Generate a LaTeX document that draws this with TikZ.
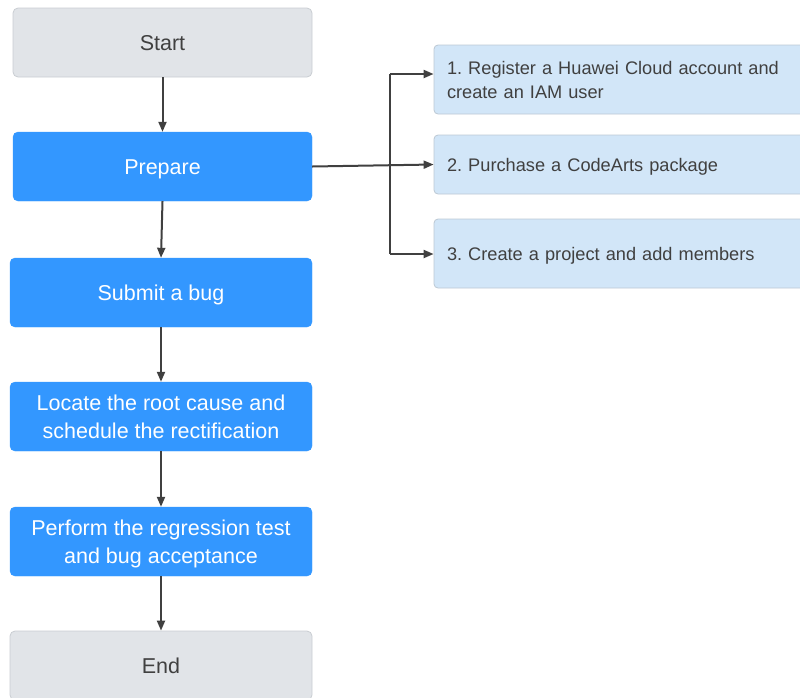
\documentclass[tikz,border=0pt]{standalone}
\usepackage{fontspec}
\setmainfont{Liberation Sans}
\usetikzlibrary{arrows.meta}
\definecolor{grayfill}{HTML}{E1E4E8}
\definecolor{grayline}{HTML}{C9CDD2}
\definecolor{bluefill}{HTML}{3397FF}
\definecolor{lightfill}{HTML}{D2E6F8}
\definecolor{lightline}{HTML}{BCC8D4}
\definecolor{txt}{HTML}{404040}
\newcommand\bigstr{\rule[-6.3pt]{0pt}{28pt}}
\newcommand\smallstr{\rule[-5.5pt]{0pt}{24pt}}
\tikzset{
  base/.style={rectangle, rounded corners=5pt, inner sep=0pt, align=center, font=\fontsize{21.5}{28}\selectfont},
  grey/.style={base, fill=grayfill, draw=grayline, line width=0.8pt, text=txt},
  blue/.style={base, fill=bluefill, draw=bluefill, text=white},
  sub/.style={rectangle, rounded corners=4pt, inner xsep=13pt, inner ysep=0pt, fill=lightfill, draw=lightline, line width=0.8pt, text=txt, align=left, text width=354pt, minimum width=380pt, font=\fontsize{18.2}{24}\selectfont},
  arr/.style={draw=txt, line width=2pt, -{Triangle[length=10pt,width=8pt]}},
  ln/.style={draw=txt, line width=2pt}
}
\begin{document}
\frenchspacing
\begin{tikzpicture}[x=1pt,y=-1pt]
\useasboundingbox (0,0) rectangle (800,697);
\clip (0,0) rectangle (800,697);
\node[grey, minimum width=299pt, minimum height=69pt] (start) at (162.5,42.5) {\bigstr Start};
\node[blue, minimum width=299pt, minimum height=69pt] (prep) at (162.5,166.5) {\bigstr Prepare};
\node[blue, minimum width=302pt, minimum height=69pt] (bug) at (161,292.5) {\bigstr Submit a bug};
\node[blue, minimum width=302pt, minimum height=69pt] (loc) at (161,416.5) {\bigstr Locate the root cause and\\\bigstr schedule the rectification};
\node[blue, minimum width=302pt, minimum height=69pt] (perf) at (161,541.5) {\bigstr Perform the regression test\\\bigstr and bug acceptance};
\node[grey, minimum width=302pt, minimum height=69pt] (end) at (161,665.5) {\bigstr End};
\node[sub, minimum height=69pt] (r1) at (624,79.5) {\smallstr 1. Register a Huawei Cloud account and\\\smallstr create an IAM user};
\node[sub, minimum height=59pt] (r2) at (624,164.5) {\smallstr 2. Purchase a CodeArts package};
\node[sub, minimum height=69pt] (r3) at (624,253.5) {\smallstr 3. Create a project and add members};
\coordinate (t1) at (390,74);
\coordinate (t3) at (390,254);
\draw[arr] (start.south) -- (prep.north);
\draw[arr] (prep.south) -- (bug.north);
\draw[arr] (bug.south) -- (loc.north);
\draw[arr] (loc.south) -- (perf.north);
\draw[arr] (perf.south) -- (end.north);
\draw[arr] (prep.east) -- (r2.west);
\draw[ln] (t1) -- (t3);
\draw[arr] (t1) -- (t1 -| r1.west);
\draw[arr] (t3) -- (t3 -| r3.west);
\end{tikzpicture}
\end{document}
